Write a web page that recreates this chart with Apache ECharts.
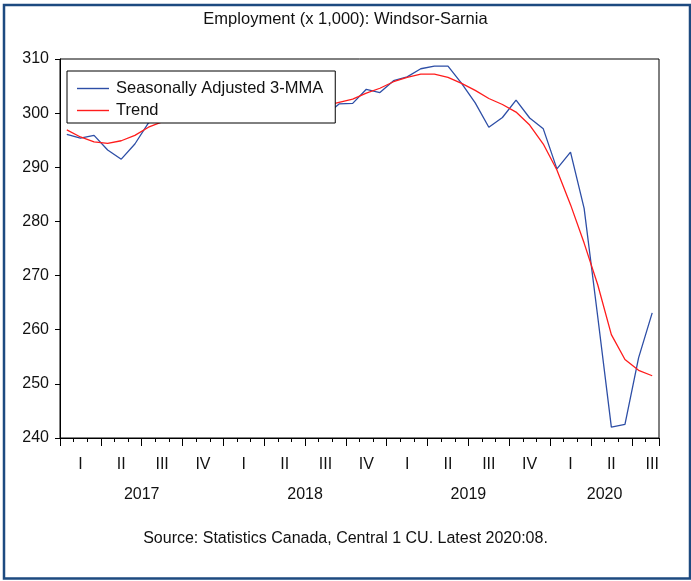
<!DOCTYPE html>
<html>
<head>
<meta charset="utf-8">
<title>Employment: Windsor-Sarnia</title>
<script src="https://cdn.jsdelivr.net/npm/echarts@6/dist/echarts.min.js"></script>
<style>
  html, body { margin: 0; padding: 0; background: #ffffff; }
  #chart { width: 691px; height: 581px; }
</style>
</head>
<body>
<div id="chart"></div>
<script>
// Monthly observations, Jan 2017 .. Aug 2020 (thousands of persons)
const startYear = 2017;
const monthCount = 44;
const yearLabels = ['2017', '2018', '2019', '2020'];
const quarterLabels = ['I', 'II', 'III', 'IV'];

const seasonallyAdjusted = [
  296.1, 295.4, 295.9, 293.2, 291.5, 294.3, 298.2, 299.5, 300.2, 299.6, 300.8, 300.3,
  299.8, 300.9, 301.2, 300.4, 299.9, 300.6, 300.2, 299.6, 301.7, 301.8, 304.4, 303.8,
  306.0, 306.7, 308.2, 308.7, 308.7, 305.5, 301.9, 297.4, 299.2, 302.4, 299.1, 297.1,
  289.7, 292.8, 282.4, 262.4, 242.0, 242.5, 254.8, 263.1
];

const trend = [
  296.9, 295.6, 294.7, 294.4, 294.9, 295.9, 297.4, 298.4, 299.2, 299.8, 300.1, 300.3,
  300.4, 300.4, 300.4, 300.5, 300.7, 301.0, 301.2, 301.4, 302.0, 302.6, 303.7, 304.6,
  305.8, 306.6, 307.2, 307.2, 306.6, 305.5, 304.2, 302.7, 301.6, 300.2, 297.8, 294.3,
  289.5, 283.1, 276.0, 268.3, 259.1, 254.5, 252.5, 251.5
];

const months = [];
for (let i = 0; i < monthCount; i++) {
  const y = startYear + Math.floor(i / 12);
  const m = (i % 12) + 1;
  months.push(y + ':' + String(m).padStart(2, '0'));
}

// Year labels sit in the middle of the months each year actually covers
const yearCenters = yearLabels.map((_, j) => {
  const s = j * 12;
  const e = Math.min((j + 1) * 12, monthCount);
  return (s + e) / 2;
});

const FONT = '"Liberation Sans", Arial, Helvetica, sans-serif';
const BLUE = '#2d4ea6';
const RED = '#ff1c1c';

const chart = echarts.init(document.getElementById('chart'), null, { renderer: 'canvas' });

chart.setOption({
  backgroundColor: '#ffffff',
  animation: false,
  textStyle: { fontFamily: FONT },
  title: [
    {
      text: 'Employment (x 1,000): Windsor-Sarnia',
      left: 'center',
      top: 11,
      padding: 0,
      textStyle: { fontFamily: FONT, fontSize: 16.5, fontWeight: 'normal', color: '#111' }
    },
    {
      text: 'Source: Statistics Canada, Central 1 CU. Latest 2020:08.',
      left: 'center',
      top: 531,
      padding: 0,
      textStyle: { fontFamily: FONT, fontSize: 16, fontWeight: 'normal', color: '#111' }
    }
  ],
  legend: {
    orient: 'vertical',
    left: 67,
    top: 71,
    padding: [9, 12, 4, 10],
    icon: 'rect',
    itemWidth: 32,
    itemHeight: 1.4,
    itemGap: 5,
    backgroundColor: '#ffffff',
    borderColor: '#000000',
    borderWidth: 1,
    borderRadius: 0,
    textStyle: { fontFamily: FONT, fontSize: 16.5, color: '#111', padding: [0, 0, 0, 2] },
    data: ['Seasonally Adjusted 3-MMA', 'Trend']
  },
  grid: {
    left: 60,
    top: 59,
    right: 32,
    bottom: 143,
    show: true,
    borderColor: '#000000',
    borderWidth: 1,
    backgroundColor: 'transparent'
  },
  xAxis: [
    {
      // month ticks
      type: 'category',
      data: months,
      boundaryGap: true,
      position: 'bottom',
      axisLine: { show: true, lineStyle: { color: '#000', width: 1 } },
      axisTick: { show: true, interval: 0, length: 4, lineStyle: { color: '#000' } },
      axisLabel: { show: false },
      splitLine: { show: false }
    },
    {
      // quarter ticks and quarter labels
      type: 'category',
      data: months,
      boundaryGap: true,
      position: 'bottom',
      axisLine: { show: false },
      axisTick: {
        show: true,
        length: 8,
        interval: (i) => i % 3 === 0,
        lineStyle: { color: '#000' }
      },
      axisLabel: {
        show: true,
        interval: (i) => i % 3 === 1,
        margin: 19,
        fontFamily: FONT,
        fontSize: 16,
        color: '#111',
        formatter: (v, i) => quarterLabels[Math.floor((i % 12) / 3)]
      },
      splitLine: { show: false }
    },
    {
      // year labels
      type: 'value',
      min: 0,
      max: monthCount,
      position: 'bottom',
      axisLine: { show: false },
      axisTick: { show: false },
      splitLine: { show: false },
      axisLabel: {
        show: true,
        customValues: yearCenters,
        margin: 49,
        fontFamily: FONT,
        fontSize: 16,
        color: '#111',
        formatter: (v) => {
          const j = yearCenters.indexOf(v);
          return j >= 0 ? yearLabels[j] : '';
        }
      }
    }
  ],
  yAxis: {
    type: 'value',
    min: 240,
    max: 310,
    interval: 10,
    axisLine: { show: true, lineStyle: { color: '#000', width: 1 } },
    axisTick: { show: true, length: 5, lineStyle: { color: '#000' } },
    axisLabel: { margin: 11, fontFamily: FONT, fontSize: 16, color: '#111' },
    splitLine: { show: false }
  },
  series: [
    {
      name: 'Seasonally Adjusted 3-MMA',
      type: 'line',
      xAxisIndex: 0,
      data: seasonallyAdjusted,
      symbol: 'none',
      lineStyle: { color: BLUE, width: 1.3 },
      itemStyle: { color: BLUE }
    },
    {
      name: 'Trend',
      type: 'line',
      xAxisIndex: 0,
      data: trend,
      symbol: 'none',
      lineStyle: { color: RED, width: 1.3 },
      itemStyle: { color: RED }
    }
  ],
  graphic: [
    {
      type: 'rect',
      silent: true,
      shape: { x: 4, y: 5, width: 686, height: 573.5 },
      style: { fill: 'none', stroke: '#1d4a80', lineWidth: 2.5 }
    }
  ]
});
</script>
</body>
</html>
